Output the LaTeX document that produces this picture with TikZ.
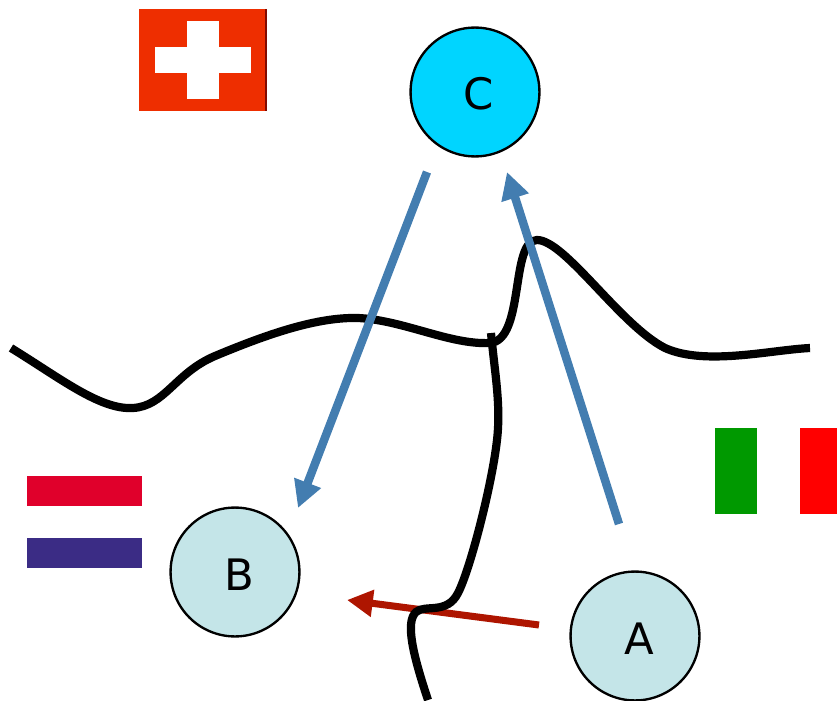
\documentclass[tikz,border=0pt]{standalone}
\usepackage{fontspec}
\setmainfont{DejaVu Sans}
\usetikzlibrary{arrows.meta}
\definecolor{cyanball}{HTML}{00D5FF}
\definecolor{paleball}{HTML}{C4E5E8}
\definecolor{bluearrow}{HTML}{437DB0}
\definecolor{redarrow}{HTML}{AE1500}
\begin{document}
\begin{tikzpicture}[x=0.03cm,y=-0.03cm,
    every node/.style={draw, circle, line width=2pt, minimum size=110pt, inner sep=0pt, font=\fontsize{37}{40}\selectfont},
    bluelink/.style={draw=bluearrow, line width=7.2pt, -{Triangle[length=23pt,width=23pt]}},
    redlink/.style={draw=redarrow, line width=6pt, -{Triangle[length=22pt,width=22pt]}},
    border/.style={line width=7pt}]
    \useasboundingbox (0,0) rectangle (837,701);
    % flags
    \fill[fill={rgb,255:red,238;green,46;blue,0}] (139,9) rectangle (267,111);
    \fill[fill={rgb,255:red,130;green,10;blue,0}] (265,9) rectangle (267,111);
    \fill[white] (187,21) rectangle (219,99);
    \fill[white] (155,47) rectangle (251,73);
    \fill[fill={rgb,255:red,224;green,0;blue,43}] (27,476) rectangle (142,506);
    \fill[fill={rgb,255:red,59;green,44;blue,133}] (27,538) rectangle (142,568);
    \fill[fill={rgb,255:red,0;green,153;blue,0}] (715,428) rectangle (757,514);
    \fill[red] (800,428) rectangle (837,514);
    \node[fill=cyanball] (C) at (475,92) {\kern0.24cm\rule{0pt}{31pt}C};
    \node[fill=paleball] (B) at (235,572) {\kern0.24cm\rule{0pt}{31pt}B};
    \node[fill=paleball] (A) at (635,636) {\kern0.24cm\rule{0pt}{31pt}A};
    \coordinate (Cout) at (427,172);
    \coordinate (Bin) at (298,508);
    \coordinate (Aout) at (619,524);
    \coordinate (Cin) at (507,172);
    \coordinate (Aleft) at (539,625);
    \coordinate (Bright) at (347,600);
    \draw[redlink] (Aleft) -- (Bright);
    % borders
    \draw[border] (11,348) .. controls (60,378) and (100,410) .. (133,408)
        .. controls (165,406) and (175,373) .. (215,356)
        .. controls (270,333) and (318,317) .. (358,318)
        .. controls (403,320) and (450,345) .. (490,343)
        .. controls (525,340) and (510,240) .. (537,240)
        .. controls (565,240) and (620,325) .. (665,348)
        .. controls (705,366) and (770,350) .. (810,348);
    \draw[border] (491,333) .. controls (495,375) and (501,405) .. (497,440)
        .. controls (492,485) and (470,570) .. (458,593)
        .. controls (447,615) and (425,604) .. (416,612)
        .. controls (405,622) and (413,655) .. (428,700);
    \draw[bluelink] (Cout) -- (Bin);
    \draw[bluelink] (Aout) -- (Cin);
\end{tikzpicture}
\end{document}
